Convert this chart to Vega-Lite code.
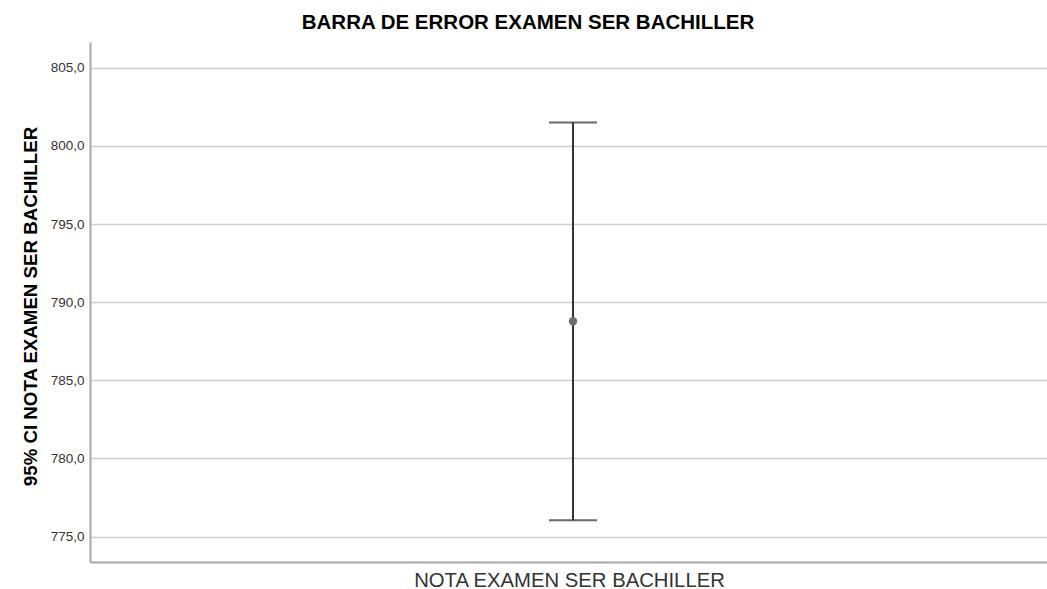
{
  "$schema": "https://vega.github.io/schema/vega-lite/v6.json",
  "autosize": "none",
  "width": 966,
  "height": 520,
  "padding": {"left": 90, "top": 42, "right": 0, "bottom": 27},
  "background": "white",
  "title": {
    "text": "BARRA DE ERROR EXAMEN SER BACHILLER",
    "font": "Liberation Sans",
    "fontSize": 20.5,
    "fontWeight": "bold",
    "color": "#000000",
    "anchor": "middle",
    "dx": -45,
    "offset": 9
  },
  "data": {
    "values": [
      {"variable": "NOTA EXAMEN SER BACHILLER", "mean": 788.78, "lower": 776.04, "upper": 801.5}
    ]
  },
  "config": {
    "view": {"stroke": null},
    "axis": {"labelFont": "Liberation Sans", "titleFont": "Liberation Sans"}
  },
  "encoding": {
    "x": {
      "field": "variable",
      "type": "nominal",
      "scale": {"type": "point", "padding": 0.5},
      "axis": {
        "labels": false,
        "ticks": false,
        "grid": false,
        "domainColor": "#a8a8a8",
        "domainWidth": 2,
        "title": "NOTA EXAMEN SER BACHILLER",
        "titleFontSize": 20.3,
        "titleFontWeight": "normal",
        "titleColor": "#333333",
        "titlePadding": 8,
        "titleX": 479
      }
    }
  },
  "layer": [
    {
      "mark": {"type": "rule", "color": "#333333", "strokeWidth": 2},
      "encoding": {
        "y": {
          "field": "lower",
          "type": "quantitative",
          "scale": {"domain": [773.37, 806.65], "nice": false, "zero": false},
          "axis": {
            "values": [775, 780, 785, 790, 795, 800, 805],
            "labelExpr": "replace(format(datum.value, '.1f'), '.', ',')",
            "labelFontSize": 13.5,
            "labelColor": "#333333",
            "labelPadding": 6,
            "ticks": false,
            "grid": true,
            "gridColor": "#d0d0d0",
            "gridWidth": 1.5,
            "domainColor": "#a8a8a8",
            "domainWidth": 2,
            "title": "95% CI NOTA EXAMEN SER BACHILLER",
            "titleFontSize": 18.7,
            "titleFontWeight": "bold",
            "titleColor": "#000000",
            "titlePadding": 10,
            "titleY": 264
          }
        },
        "y2": {"field": "upper"}
      }
    },
    {
      "mark": {"type": "tick", "color": "#2a2a2a", "thickness": 2, "size": 48, "orient": "horizontal"},
      "encoding": {"y": {"field": "lower", "type": "quantitative"}}
    },
    {
      "mark": {"type": "tick", "color": "#2a2a2a", "thickness": 2, "size": 48, "orient": "horizontal"},
      "encoding": {"y": {"field": "upper", "type": "quantitative"}}
    },
    {
      "mark": {"type": "point", "filled": true, "color": "#6e6e6e", "size": 70, "opacity": 1},
      "encoding": {"y": {"field": "mean", "type": "quantitative"}}
    }
  ]
}
